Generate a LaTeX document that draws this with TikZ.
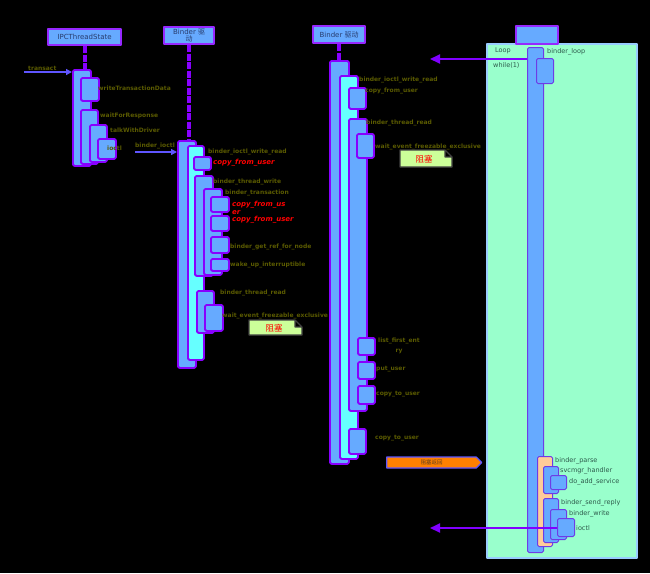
\documentclass[tikz,border=0pt]{standalone}
\usepackage{fontspec}
\setmainfont{DejaVu Sans}
\newfontfamily\cjk{Noto Sans CJK SC}
\usetikzlibrary{arrows.meta,shapes.arrows}
\definecolor{barblue}{RGB}{102,170,255}
\definecolor{barline}{RGB}{136,0,255}
\definecolor{headline}{RGB}{150,40,255}
\definecolor{headtext}{RGB}{40,60,110}
\definecolor{barcyan}{RGB}{102,255,255}
\definecolor{peach}{RGB}{255,204,153}
\definecolor{smline}{RGB}{110,60,230}
\definecolor{loopgreen}{RGB}{153,255,204}
\definecolor{loopline}{RGB}{153,204,255}
\definecolor{notegreen}{RGB}{204,255,153}
\definecolor{notegray}{RGB}{64,64,64}
\definecolor{labolive}{RGB}{90,90,0}
\definecolor{labteal}{RGB}{45,90,75}
\definecolor{msgblue}{RGB}{95,85,255}
\definecolor{msgpurple}{RGB}{128,0,255}
\definecolor{wakeorange}{RGB}{255,128,0}
\definecolor{waketext}{RGB}{90,60,30}
\begin{document}
\begin{tikzpicture}[x=1pt,y=-1pt,line join=round,
	head/.style={draw=headline,fill=barblue,line width=2.2pt,inner sep=0pt,anchor=north west,text=headtext,font=\fontsize{7}{7.5}\selectfont,align=center},
	lifeline/.style={draw=barline,line width=4pt,dash pattern=on 7pt off 1.5pt},
	bar/.style={draw=barline,line width=1.8pt,rounded corners=1.5pt,inner sep=0pt,anchor=north west},
	smbar/.style={bar,draw=smline,line width=1pt},
	lab/.style={anchor=west,inner sep=0pt,text=labolive,font=\fontsize{6}{6.5}\selectfont\bfseries},
	redlab/.style={lab,text=red,font=\fontsize{7}{8.5}\selectfont\bfseries\itshape},
	smlab/.style={anchor=west,inner sep=0pt,text=labteal,font=\fontsize{6.5}{7}\selectfont},
	msg/.style={draw=msgblue,line width=1.3pt,-{Triangle[length=6pt,width=6pt]}},
	reply/.style={draw=msgpurple,line width=2pt,-{Triangle[length=10pt,width=9pt]}},
	notebox/.style={draw=notegray,fill=notegreen,line width=1.2pt},
	notetxt/.style={text=red,inner sep=0pt,font=\cjk\fontsize{8.5}{8.5}\selectfont}]
	\fill[black] (0,0) rectangle (650,573);
	\useasboundingbox (0,0) rectangle (650,573);

	% servicemanager loop frame
	\node[draw=loopline,fill=loopgreen,line width=1.5pt,inner sep=0pt,anchor=north west,minimum width=150pt,minimum height=514pt] (loop) at (486,43) {};

	% heads
	\node[head,minimum width=73pt,minimum height=16pt] (ipc) at (47,28) {IPCThreadState};
	\node[head,minimum width=50pt,minimum height=17pt] (drvA) at (163,26) {Binder {\cjk 驱}\\{\cjk 动}};
	\node[head,minimum width=52pt,minimum height=17pt] (drvB) at (312,25) {Binder {\cjk 驱动}};
	\node[head,minimum width=42pt,minimum height=18pt] (sm) at (515,25) {};

	% activation bars
	\foreach \n/\c/\xa/\ya/\xb/\yb in {ipcAct/barblue/72/69/90/165,writeTD/barblue/80/77/98/100,waitFR/barblue/80/109/97/163,
		talkWD/barblue/89/124/106/161,ioctlA/barblue/97/138/115/158,
		drvAct/barblue/177/140/195/367,wrRdA/barcyan/187/145/203/359,cpyA/barblue/193/156/210/169,
		thrWrite/barblue/194/175/212/275,trans/barblue/203/188/221/274,cpyB/barblue/210/196/228/211,
		cpyC/barblue/210/215/228/230,getRef/barblue/210/236/228/252,wakeUp/barblue/210/258/228/270,
		thrReadA/barblue/196/290/213/332,waitA/barblue/204/304/222/330,
		smDrvAct/barblue/329/60/348/463,wrRdB/barcyan/339/75/357/458,cpyD/barblue/348/87/365/108,
		thrReadB/barblue/348/118/366/410,waitB/barblue/356/133/373/157,listFE/barblue/357/337/374/354,
		putU/barblue/357/361/374/378,cpyE/barblue/357/385/374/403,cpyF/barblue/348/428/365/453}
		\node[bar,fill=\c,minimum width={(\xb-\xa)*1pt},minimum height={(\yb-\ya)*1pt}] (\n) at (\xa,\ya) {};
	\foreach \n/\c/\xa/\ya/\xb/\yb in {smLoop/barblue/527/47/543/552,binderLoop/barblue/536/58/553/83,
		parse/peach/537/456/552/546,handler/barblue/543/466/558/493,addSvc/barblue/550/475/566/489,
		sendRp/barblue/543/498/558/542,bWrite/barblue/550/509/566/539,ioctlB/barblue/557/518/574/536}
		\node[smbar,fill=\c,minimum width={(\xb-\xa)*1pt},minimum height={(\yb-\ya)*1pt}] (\n) at (\xa,\ya) {};

	% lifelines
	\draw[lifeline] (ipc.south) -- (ipc.south |- ipcAct.north);
	\draw[lifeline] (drvA.south) -- (drvA.south |- drvAct.north);
	\draw[lifeline] (drvB.south) -- (drvB.south |- smDrvAct.north);

	% labels
	\foreach \n/\x/\y/\t in {lTransact/28/68/transact,lWriteTD/98/88/writeTransactionData,lWaitFR/100/116/waitForResponse,
		lTalkWD/110/130/talkWithDriver,lIoctlA/107/148/ioctl,lBinderIoctl/135/146/binder\_ioctl,
		lWrRdA/208/152/binder\_ioctl\_write\_read,lThrWrite/213/182/binder\_thread\_write,lTrans/225/193/binder\_transaction,
		lGetRef/230/247/binder\_get\_ref\_for\_node,lWakeUp/230/265/wake\_up\_interruptible,
		lThrReadA/220/293/binder\_thread\_read,lWaitA/222/316/wait\_event\_freezable\_exclusive,
		lWrRdB/359/80/binder\_ioctl\_write\_read,lCpyD/365/91/copy\_from\_user,lThrReadB/366/123/binder\_thread\_read,
		lWaitB/375/147/wait\_event\_freezable\_exclusive,lPutU/376/369/put\_user,lCpyE/376/394/copy\_to\_user,
		lCpyF/375/438/copy\_to\_user}
		\node[lab] (\n) at (\x,\y) {\t};
	\node[lab,anchor=center,align=center,font=\fontsize{6}{10}\selectfont\bfseries] (lListFE) at (399,346) {list\_first\_ent\\ry};
	\node[redlab] (rCpyA) at (213,163) {copy\_from\_user};
	\node[redlab,align=left] (rCpyB) at (232,208) {copy\_from\_us\\er};
	\node[redlab] (rCpyC) at (232,220) {copy\_from\_user};
	\foreach \n/\x/\y/\t in {lLoop/495/51/Loop,lWhile/493/65/while(1),lBLoop/547/52/binder\_loop,lParse/555/461/binder\_parse,
		lHandler/560/471/svcmgr\_handler,lAddSvc/569/482/do\_add\_service,lSendRp/561/503/binder\_send\_reply,
		lBWrite/569/514/binder\_write,lIoctlB/576/528/ioctl}
		\node[smlab] (\n) at (\x,\y) {\t};

	% blocking notes
	\draw[notebox] (249,320) -- (295,320) -- (302,327) -- (302,335) -- (249,335) -- cycle (295,320) -- (295,327) -- (302,327);
	\node[notetxt] (blockA) at (274,328) {阻塞};
	\draw[notebox] (400,150) -- (445,150) -- (452,157) -- (452,167) -- (400,167) -- cycle (445,150) -- (445,157) -- (452,157);
	\node[notetxt] (blockB) at (424,159) {阻塞};
	\node[single arrow,draw=msgblue,fill=wakeorange,line width=1.2pt,single arrow head extend=0pt,inner sep=0pt,
		minimum height=95pt,minimum width=11pt,text=waketext,font=\cjk\fontsize{5.5}{5.5}\selectfont] (wake) at (431.5,462.5) {阻塞返回};

	% messages
	\coordinate (trIn) at (24,72);
	\draw[msg] (trIn) -- (trIn -| ipcAct.west);
	\coordinate (ioIn) at (135,152);
	\draw[msg] (ioIn) -- (ioIn -| drvAct.west);
	\coordinate (loopOut) at (430,59);
	\draw[reply] (loopOut -| smLoop.west) -- (loopOut);
	\coordinate (replyOut) at (430,528);
	\draw[reply] (replyOut -| ioctlB.west) -- (replyOut);
\end{tikzpicture}
\end{document}
